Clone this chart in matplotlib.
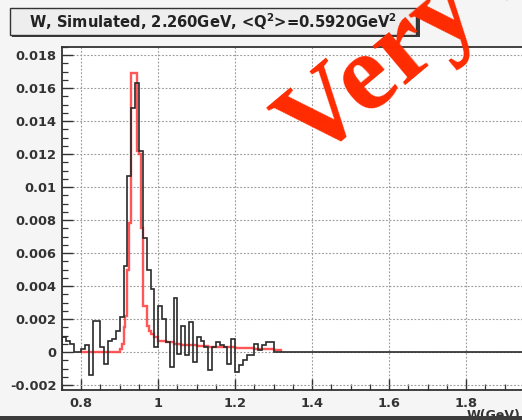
import numpy as np
import matplotlib
matplotlib.use("Agg")
import matplotlib.pyplot as plt
from matplotlib.patches import Rectangle
from matplotlib.ticker import MultipleLocator, FixedLocator, FixedFormatter

plt.rcParams["font.family"] = ["DejaVu Sans"]
plt.rcParams["font.weight"] = "bold"
plt.rcParams["mathtext.fontset"] = "dejavusans"

# ---- data -------------------------------------------------------------
title = r"W, Simulated, 2.260GeV, <Q$^{\mathbf{2}}$>=0.5920GeV$^{\mathbf{2}}$"
x_label = "W(GeV)"

# measured histogram, 0.01 GeV bins starting at W = 0.75
w_start = 0.75
w_bin = 0.01
measured = [
    0.0009, 0.0007, 0.0005, 0.0000, 0.0000, 0.0002, 0.0004, -0.0014, 0.0019, 0.0019,
    0.0003, -0.0007, 0.0007, 0.0008, 0.0013, 0.0021, 0.0052, 0.0107, 0.0148, 0.0163,
    0.0122, 0.0069, 0.0050, 0.0038, 0.0003, 0.0028, 0.0020, 0.0006, -0.0009, 0.0033,
    -0.0001, 0.0016, -0.0002, 0.0018, -0.0006, 0.0009, 0.0007, 0.0003, -0.0011, 0.0003,
    0.0006, 0.0004, 0.0003, -0.0007, 0.0008, -0.0012, -0.0008, -0.0005, -0.0002, -0.0002,
    0.0005, 0.0001, 0.0004, 0.0006, 0.0006, 0.0000, 0.0000, 0.0000,
]
# empty bins up to the end of the range
empty_bins = [0.0] * 67

# simulated (red) shape
sim_edges = [0.80, 0.90, 0.905, 0.91, 0.915, 0.92, 0.925, 0.93, 0.945, 0.95, 0.955,
             0.96, 0.97, 0.975, 0.98, 0.99, 1.00, 1.02, 1.04, 1.06, 1.08, 1.10,
             1.13, 1.16, 1.20, 1.25, 1.30, 1.32]
sim_vals = [0.0, 0.0002, 0.0005, 0.0015, 0.0022, 0.0050, 0.0078, 0.0169, 0.0122,
            0.0120, 0.0075, 0.0028, 0.0016, 0.0013, 0.0011, 0.0009, 0.0007, 0.0006,
            0.0005, 0.00045, 0.0004, 0.00035, 0.0003, 0.00028, 0.00025, 0.0002,
            0.00012]

x_ticks = [0.8, 1.0, 1.2, 1.4, 1.6, 1.8]
x_tick_labels = ["0.8", "1", "1.2", "1.4", "1.6", "1.8"]
y_ticks = [-0.002, 0, 0.002, 0.004, 0.006, 0.008, 0.01, 0.012, 0.014, 0.016, 0.018]
y_tick_labels = ["-0.002", "0", "0.002", "0.004", "0.006", "0.008", "0.01",
                 "0.012", "0.014", "0.016", "0.018"]

# ---- figure -----------------------------------------------------------
W, H = 522, 420
fig = plt.figure(figsize=(W / 100, H / 100), dpi=100, facecolor="#f5f5f5")

ax = fig.add_axes([62 / W, 30 / H, 481 / W, 343 / H], facecolor="white")

hist_vals = np.array(measured + empty_bins)
hist_edges = w_start + w_bin * np.arange(len(hist_vals) + 1)

ax.stairs(sim_vals, sim_edges, color="#ff3a3a", lw=1.7, alpha=0.85, zorder=3)
ax.stairs(hist_vals, hist_edges, color="#2a2a2a", lw=1.2, zorder=4)

ax.set_xlim(0.75, 2.0)
ax.set_ylim(-0.0023, 0.0185)

ax.xaxis.set_major_locator(FixedLocator(x_ticks))
ax.xaxis.set_major_formatter(FixedFormatter(x_tick_labels))
ax.yaxis.set_major_locator(FixedLocator(y_ticks))
ax.yaxis.set_major_formatter(FixedFormatter(y_tick_labels))
ax.xaxis.set_minor_locator(MultipleLocator(0.05))
ax.yaxis.set_minor_locator(MultipleLocator(0.0005))

ax.tick_params(which="major", direction="in", length=8, width=1.0,
               labelsize=9.4, colors="#333333", labelcolor="#333333")
ax.tick_params(axis="y", which="major", pad=4)
ax.tick_params(axis="x", which="major", pad=5)
ax.tick_params(which="minor", direction="in", length=4.5, width=0.9, colors="#333333")
ax.tick_params(top=False, right=False, which="both")

ax.grid(True, which="major", color="#9a9a9a", linestyle=(0, (1.6, 1.6)), lw=0.8)
ax.set_axisbelow(True)
for s in ax.spines.values():
    s.set_color("#333333")
    s.set_linewidth(1.3)

# title box with shadow
px = lambda x, y: (x / W, 1 - y / H)
fig.patches.append(Rectangle(px(12, 37), 408 / W, 27 / H, transform=fig.transFigure,
                             facecolor="#3a3a3a", edgecolor="none", zorder=5))
fig.patches.append(Rectangle(px(10, 35), 406 / W, 27 / H, transform=fig.transFigure,
                             facecolor="#eeeeee", edgecolor="#333333", lw=1.0, zorder=6))
fig.text(213.5 / W, 1 - 21.5 / H, title, ha="center", va="center",
         fontsize=10.6, color="#222222", zorder=7)

# axis title, partly hidden by the window edge
fig.text(467 / W, 1 - 409 / H, x_label, ha="left", va="top", fontsize=9.0,
         color="#333333", zorder=7)
fig.patches.append(Rectangle((0, 0), 1, 4 / H, transform=fig.transFigure,
                             facecolor="#3c3c3c", edgecolor="none", zorder=8))

# watermark
fig.text(312 / W, 1 - 163 / H, "Very Preliminary", rotation=40, rotation_mode="anchor",
         ha="left", va="baseline", fontsize=80, family="Liberation Serif",
         weight="bold", color="#ff2a00", zorder=20)

fig.savefig("out.png", dpi=100, facecolor=fig.get_facecolor())
